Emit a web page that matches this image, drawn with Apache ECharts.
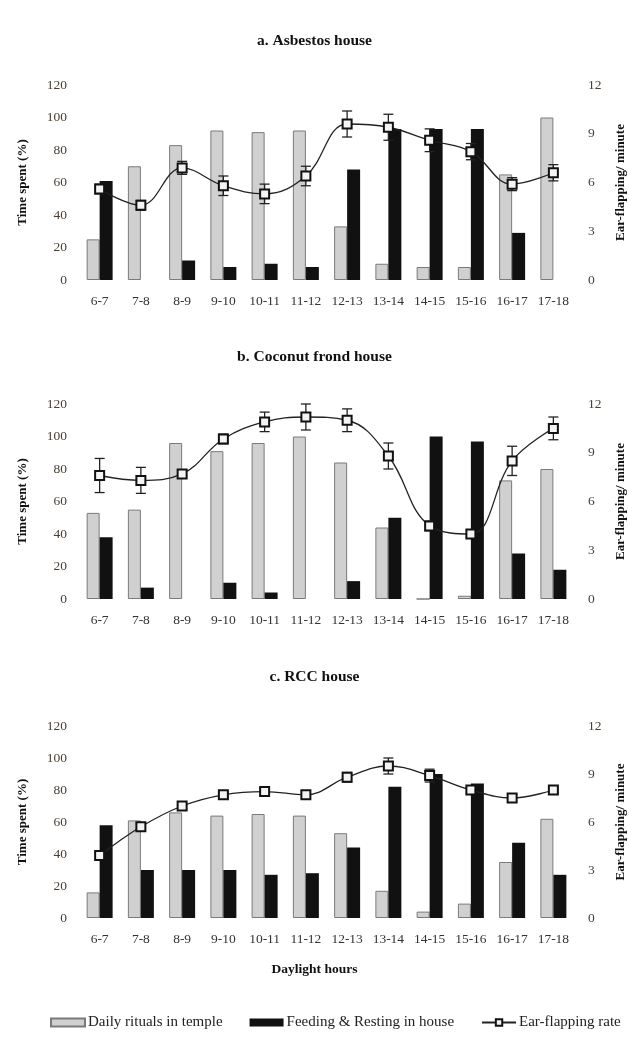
<!DOCTYPE html>
<html>
<head>
<meta charset="utf-8">
<script src="https://cdn.jsdelivr.net/npm/echarts@6/dist/echarts.min.js"></script>
<style>
html,body{margin:0;padding:0;background:#fff;}
#c{width:629px;height:1040px;}
</style>
</head>
<body>
<div id="c"></div>
<script>
const categories = ['6-7','7-8','8-9','9-10','10-11','11-12','12-13','13-14','14-15','15-16','16-17','17-18'];
const leftTicks = [0,20,40,60,80,100,120];
const rightTicks = [0,3,6,9,12];

const templeA = [25,70,83,92,91,92,33,10,8,8,65,100];
const feedA   = [61,0,12,8,10,8,68,93,93,93,29,0];
const earA    = [5.6,4.6,6.9,5.8,5.3,6.4,9.6,9.4,8.6,7.9,5.9,6.6];
const errA    = [0.3,0.3,0.4,0.6,0.6,0.6,0.8,0.8,0.7,0.5,0.4,0.5];

const templeB = [53,55,96,91,96,100,84,44,0,2,73,80];
const feedB   = [38,7,0,10,4,0,11,50,100,97,28,18];
const earB    = [7.6,7.3,7.7,9.85,10.9,11.2,11.0,8.8,4.5,4.0,8.5,10.5];
const errB    = [1.05,0.8,0.2,0.3,0.6,0.8,0.7,0.8,0.3,0.2,0.9,0.7];

const templeC = [16,61,66,64,65,64,53,17,4,9,35,62];
const feedC   = [58,30,30,30,27,28,44,82,90,84,47,27];
const earC    = [3.9,5.7,7.0,7.7,7.9,7.7,8.8,9.5,8.9,8.0,7.5,8.0];
const errC    = [0.2,0.2,0.2,0.2,0.2,0.2,0.3,0.5,0.4,0.2,0.2,0.2];

const panelTitles = ['a. Asbestos house','b. Coconut frond house','c. RCC house'];
const seriesNames = ['Daily rituals in temple','Feeding & Resting in house','Ear-flapping rate'];

const FONT = '"Liberation Serif", "DejaVu Serif", serif';
const panels = [
  {t: templeA, f: feedA, e: earA, err: errA},
  {t: templeB, f: feedB, e: earB, err: errB},
  {t: templeC, f: feedC, e: earC, err: errC}
];
const gridTops = [85, 404, 726];
const gridHeights = [195, 195, 192];
const titleTops = [28, 344, 664];

const grids = [], xAxes = [], yAxes = [], series = [], titles = [];
panels.forEach((p, i) => {
  grids.push({left: 79, width: 495, top: gridTops[i], height: gridHeights[i], outerBoundsMode: 'none', containLabel: false});
  titles.push({text: panelTitles[i], left: 'center', top: titleTops[i],
    textStyle: {fontFamily: FONT, fontSize: 15.5, fontWeight: 'bold', color: '#111'}});
  xAxes.push({type: 'category', gridIndex: i, data: categories,
    axisLine: {show: false}, axisTick: {show: false},
    axisLabel: {fontFamily: FONT, fontSize: 13.5, color: '#333', margin: 14, interval: 0}});
  yAxes.push({type: 'value', gridIndex: i, min: 0, max: 120, interval: 20,
    name: 'Time spent (%)', nameLocation: 'middle', nameRotate: 90, nameGap: 50,
    nameTextStyle: {fontFamily: FONT, fontSize: 13, fontWeight: 'bold', color: '#111'},
    axisLine: {show: false}, axisTick: {show: false}, splitLine: {show: false},
    axisLabel: {fontFamily: FONT, fontSize: 13.5, color: '#4a3e32', margin: 12}});
  yAxes.push({type: 'value', gridIndex: i, position: 'right', min: 0, max: 12, interval: 3,
    name: 'Ear-flapping/ minute', nameLocation: 'middle', nameRotate: 90, nameGap: 40,
    nameTextStyle: {fontFamily: FONT, fontSize: 13, fontWeight: 'bold', color: '#111'},
    axisLine: {show: false}, axisTick: {show: false}, splitLine: {show: false},
    axisLabel: {fontFamily: FONT, fontSize: 13.5, color: '#4a3e32', margin: 14}});
  series.push({name: seriesNames[0], type: 'bar', xAxisIndex: i, yAxisIndex: 2*i,
    data: p.t, barGap: '0%', barCategoryGap: '37%',
    itemStyle: {color: '#d0d0d0', borderColor: '#7a7a7a', borderWidth: 1}});
  series.push({name: seriesNames[1], type: 'bar', xAxisIndex: i, yAxisIndex: 2*i,
    data: p.f, barGap: '0%', barCategoryGap: '37%',
    itemStyle: {color: '#111111'}});
  series.push({name: seriesNames[2] + '_err', type: 'custom', xAxisIndex: i, yAxisIndex: 2*i+1,
    z: 5, silent: true,
    data: p.e.map((v, k) => [k, v - p.err[k], v + p.err[k]]),
    renderItem: function (params, api) {
      const lo = api.coord([api.value(0), api.value(1)]);
      const hi = api.coord([api.value(0), api.value(2)]);
      const w = 5;
      const st = {stroke: '#222', lineWidth: 1.3};
      return {type: 'group', children: [
        {type: 'line', shape: {x1: lo[0], y1: lo[1], x2: hi[0], y2: hi[1]}, style: st},
        {type: 'line', shape: {x1: lo[0]-w, y1: lo[1], x2: lo[0]+w, y2: lo[1]}, style: st},
        {type: 'line', shape: {x1: hi[0]-w, y1: hi[1], x2: hi[0]+w, y2: hi[1]}, style: st}
      ]};
    },
    encode: {x: 0, y: [1, 2]}});
  series.push({name: seriesNames[2], type: 'line', xAxisIndex: i, yAxisIndex: 2*i+1,
    data: p.e, smooth: 0.4, z: 6,
    symbol: 'rect', symbolSize: 9,
    lineStyle: {color: '#222', width: 1.3},
    itemStyle: {color: '#f4f4f4', borderColor: '#111', borderWidth: 2}});
});
titles.push({text: 'Daylight hours', left: 'center', top: 958,
  textStyle: {fontFamily: FONT, fontSize: 13.5, fontWeight: 'bold', color: '#111'}});

const chart = echarts.init(document.getElementById('c'));
chart.setOption({
  backgroundColor: '#fff',
  animation: false,
  title: titles,
  grid: grids,
  xAxis: xAxes,
  yAxis: yAxes,
  legend: {bottom: 10, left: 50, right: 0, padding: 0, itemGap: 27, itemWidth: 34, itemHeight: 8,
    data: [
      {name: seriesNames[0], icon: 'rect'},
      {name: seriesNames[1], icon: 'rect'},
      {name: seriesNames[2]}
    ],
    textStyle: {fontFamily: FONT, fontSize: 15, color: '#222', padding: [0, 0, 0, -2]}},
  series: series
});
</script>
</body>
</html>
